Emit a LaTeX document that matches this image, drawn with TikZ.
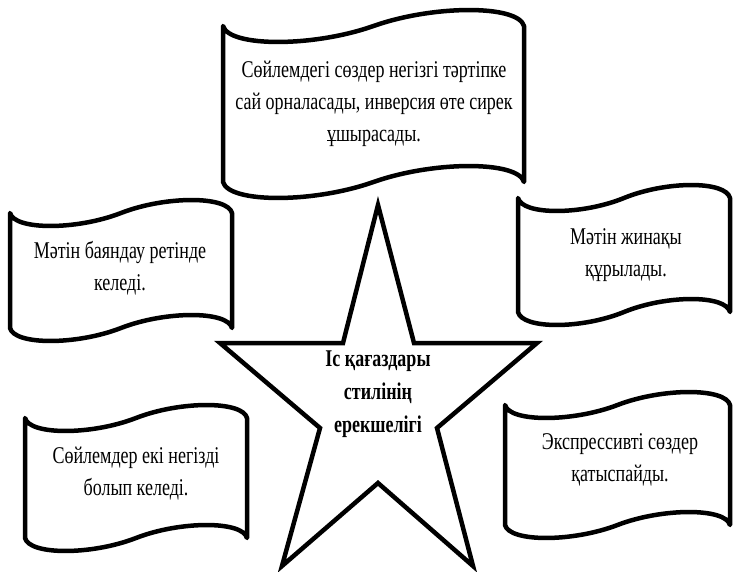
\documentclass[tikz,border=0pt]{standalone}
\usepackage{fontspec}
\setmainfont{Liberation Serif}[FakeStretch=0.75]
\usepackage{tikz}

% wavy banner outline: left, right, top, bottom, wave height
\newcommand{\wavebanner}[5]{%
  \draw[banner] (#1,#3) .. controls ({#1+0.02*(#2-#1)},{#3+1.33*#5}) and ({#1+0.3*(#2-#1)},{#3+1.33*#5}) .. ({(#1+#2)/2},#3)
    .. controls ({#1+0.7*(#2-#1)},{#3-1.33*#5}) and ({#2-0.02*(#2-#1)},{#3-1.33*#5}) .. (#2,#3)
    -- (#2,#4) .. controls ({#2-0.02*(#2-#1)},{#4-1.33*#5}) and ({#1+0.7*(#2-#1)},{#4-1.33*#5}) .. ({(#1+#2)/2},#4)
    .. controls ({#1+0.3*(#2-#1)},{#4+1.33*#5}) and ({#1+0.02*(#2-#1)},{#4+1.33*#5}) .. (#1,#4) -- cycle;}

\begin{document}
\begin{tikzpicture}[x=1pt,y=-1pt,
  banner/.style={line width=4.5pt, line join=round, fill=white},
  starline/.style={line width=4.5pt, line join=miter, fill=white},
  bannertext/.style={align=center, inner sep=0pt, font=\fontsize{24}{32}\selectfont},
  startext/.style={align=center, inner sep=0pt, font=\bfseries\fontsize{24}{33}\selectfont}]
\useasboundingbox (0,0) rectangle (734,572);

% banners
\wavebanner{223}{524}{26}{182}{16}
\wavebanner{10}{232}{213}{328}{13}
\wavebanner{518}{730}{198}{312}{13}
\wavebanner{25}{247}{418}{538}{13}
\wavebanner{505}{730}{405}{525}{13}

% star
\draw[starline] (378,205) -- (414,343) -- (537,343) -- (437,428) -- (473,566)
  -- (378,483) -- (282,566) -- (320,428) -- (220,343) -- (343,343) -- cycle;

% texts
\node[bannertext] (order) at (374,104) {Сөйлемдегі сөздер негізгі тәртіпке\\сай орналасады, инверсия өте сирек\\ұшырасады.};
\node[bannertext] (narrate) at (120,268) {Мәтін баяндау ретінде\\келеді.};
\node[bannertext] (compact) at (626,255) {Мәтін жинақы\\құрылады.};
\node[bannertext] (twopart) at (136,474) {Сөйлемдер екі негізді\\болып келеді.};
\node[bannertext] (noexpr) at (620,460) {Экспрессивті сөздер\\қатыспайды.};
\node[startext] (style) at (378,394) {Іс қағаздары\\стилінің\\ерекшелігі};

\end{tikzpicture}
\end{document}
